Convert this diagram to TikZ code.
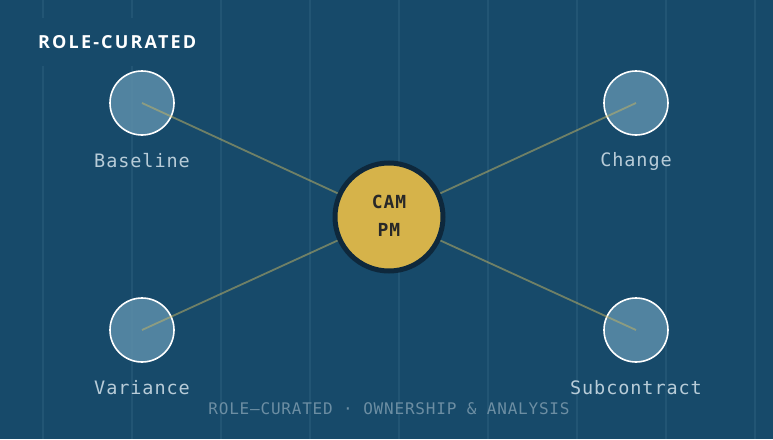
\documentclass[tikz,border=0pt]{standalone}
\usepackage{fontspec}
\newfontfamily\titlefont[LetterSpace=12]{Open Sans}
\newfontfamily\monofont[LetterSpace=5]{DejaVu Sans Mono}
\definecolor{bg}{RGB}{23,74,106}
\definecolor{gridc}{RGB}{34,85,116}
\definecolor{nodefill}{RGB}{90,140,168}
\definecolor{centerfill}{RGB}{214,179,74}
\definecolor{centerrim}{RGB}{14,40,60}
\definecolor{linkc}{RGB}{200,182,100}
\definecolor{labelc}{RGB}{184,204,216}
\definecolor{footc}{RGB}{108,142,163}
\definecolor{textdark}{RGB}{40,40,40}
\tikzset{
  gridline/.style={draw=gridc, line width=2pt},
  role/.style={circle, minimum size=64pt, inner sep=0pt, draw=white, line width=1.6pt, fill=nodefill, fill opacity=0.88},
  hub/.style={circle, minimum size=108pt, inner sep=0pt, draw=centerrim, line width=5pt, fill=centerfill, text=textdark, font=\monofont\fontsize{18}{28}\selectfont\bfseries, align=center},
  link/.style={draw=linkc, line width=1.8pt, draw opacity=0.5},
  lbl/.style={text=labelc, font=\monofont\fontsize{18.5}{20}\selectfont, inner sep=0pt},
}
\begin{document}
\begin{tikzpicture}[x=1pt,y=-1pt]
\fill[bg] (0,0) rectangle (773,439);
\useasboundingbox (0,0) rectangle (773,439);
\foreach \gx in {43,132,221,310,399,488,577,666,755}{
  \draw[gridline] (\gx,0) -- (\gx,439);
}
% title box
\fill[bg] (28,18) rectangle (210,66);
\node[text=white, font=\titlefont\fontsize{18}{20}\selectfont\bfseries, anchor=west, inner sep=0pt] (title) at (38,42) {ROLE-CURATED};
\coordinate (cb) at (142,103);
\coordinate (cc) at (636,103);
\coordinate (cv) at (142,330);
\coordinate (cs) at (636,330);
\coordinate (ch) at (389,217);
% nodes
\node[role] (baseline) at (cb) {};
\node[role] (change) at (cc) {};
\node[role] (variance) at (cv) {};
\node[role] (subcontract) at (cs) {};
% links
\draw[link] (baseline.center) -- (ch);
\draw[link] (change.center) -- (ch);
\draw[link] (variance.center) -- (ch);
\draw[link] (subcontract.center) -- (ch);
\node[hub] (hub) at (ch) {\raisebox{2pt}{CAM}\\\raisebox{2pt}{PM}};
% labels
\node[lbl] (lb) at (142,161) {Baseline};
\node[lbl] (lc) at (636,161) {Change};
\node[lbl] (lv) at (142,388) {Variance};
\node[lbl] (ls) at (636,388) {Subcontract};
\node[text=footc, font=\monofont\fontsize{16}{18}\selectfont, inner sep=0pt] (foot) at (389,409) {ROLE–CURATED · OWNERSHIP \& ANALYSIS};
\end{tikzpicture}
\end{document}
